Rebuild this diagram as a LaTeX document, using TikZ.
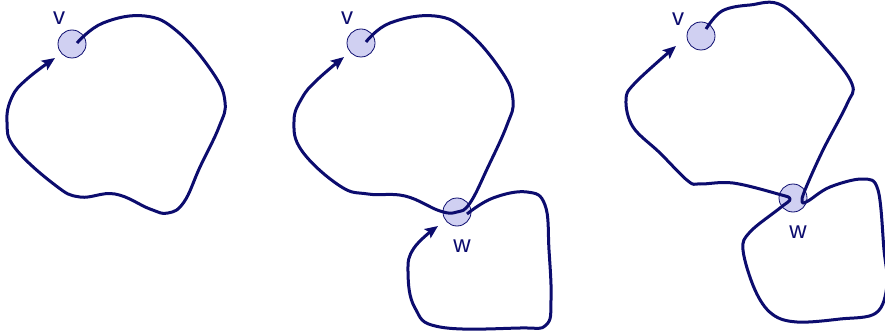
\documentclass[tikz,border=0pt]{standalone}
\usepackage{fontspec}
\setmainfont{Liberation Sans}
\usetikzlibrary{arrows.meta, calc}
\definecolor{navy}{RGB}{12,12,110}
\definecolor{lilac}{RGB}{208,208,242}

\begin{document}
\begin{tikzpicture}[x=1pt, y=-1pt,
    vtx/.style={circle, draw=navy, fill=lilac, line width=0.8pt,
      minimum size=28pt, inner sep=0pt},
    lbl/.style={text=navy, font=\fontsize{24}{28}\selectfont, inner sep=0pt},
    walk/.style={draw=navy, line width=3pt, line join=round,
      -{Stealth[length=13pt, width=11pt, inset=2.5pt]}}
  ]
    \useasboundingbox (0,0) rectangle (885,331);
    \clip (0,0) rectangle (885,331);

    % first picture: one closed walk at v
    \node[vtx] (v1) at (72,44) {};
    \node[lbl] (v1l) at (59,18) {v};
    \coordinate (v1in) at (55,58);
    \draw[walk] plot[smooth, tension=0.7] coordinates {($(v1)+(5,-1)$) (103,23)
      (145,16) (178,32) (213,73) (225,102) (219,127) (200,167) (184,202)
      (168,213) (150,209) (115,194) (80,197) (55,185) (15,148) (7,122) (12,97)
      (27,79) (v1in)};

    % second picture: walk at v passes w, second walk at w
    \node[vtx] (v2) at (361,43) {};
    \node[vtx] (w2) at (457,212) {};
    \node[lbl] (v2l) at (347,18) {v};
    \node[lbl] (w2l) at (462,246) {w};
    \coordinate (v2in) at (344,57);
    \coordinate (w2in) at (438,226);
    \draw[walk] plot[smooth, tension=0.7] coordinates {($(v2)+(5,-1)$) (390,23)
      (435,16) (468,32) (502,72) (513,100) (507,125) (488,167) (470,203)
      (w2.center) (440,211) (405,196) (368,194) (340,186) (302,151)
      (294,121) (302,98) (317,80) (v2in)};
    \draw[walk] plot[smooth, tension=0.7] coordinates {($(w2)+(10,2)$) (493,198)
      (527,192) (545,205) (549,250) (551,300) (546,325) (520,328) (440,327)
      (415,308) (408,272) (414,248) (w2in)};

    % third picture: the two walks spliced at w
    \node[vtx] (v3) at (701,36) {};
    \node[vtx] (w3) at (793,198) {};
    \node[lbl] (v3l) at (678,19) {v};
    \node[lbl] (w3l) at (798,232) {w};
    \coordinate (v3in) at (676,46);
    \draw[walk] plot[smooth, tension=0.6] coordinates {($(v3)+(5,-7)$) (722,11)
      (750,5) (783,6) (827,50) (852,84) (847,104) (823,150) (805,190)
      (802,202) (808,201) (830,187) (863,179) (878,190) (884,250) (887,285)
      (876,313) (840,319) (797,322) (772,314) (755,290) (743,250) (750,232)
      (780,208) (790,199) (778,194) (733,183) (700,184) (688,181) (660,153)
      (633,127) (626,100) (635,83) (v3in)};
\end{tikzpicture}
\end{document}
